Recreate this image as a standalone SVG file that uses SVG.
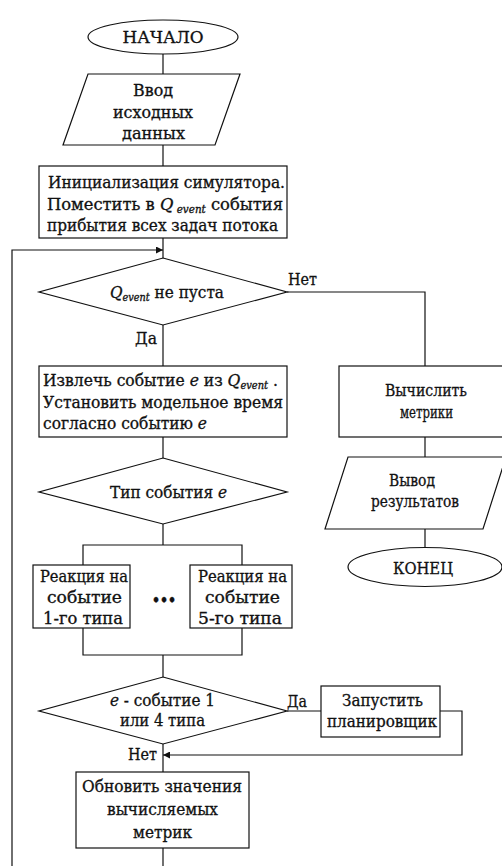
<svg xmlns="http://www.w3.org/2000/svg" width="502" height="866" viewBox="0 0 502 866">
<defs>
<style>
.n{fill:#fff;stroke:#111;stroke-width:1.2}
.c{fill:none;stroke:#111;stroke-width:1.2}
.t{font-family:"DejaVu Serif Condensed","DejaVu Serif","Liberation Serif",serif;font-size:16.5px;fill:#111;stroke:#111;stroke-width:0.3}
.m{text-anchor:middle}
.i{font-style:italic}
.s{font-style:italic;font-size:10.5px}
</style>
<marker id="ar" viewBox="0 0 8 8" refX="8" refY="4" markerWidth="7" markerHeight="7" markerUnits="userSpaceOnUse" orient="auto">
<path d="M0,0 L8,4 L0,8 Z" fill="#111"/>
</marker>
</defs>
<rect width="502" height="866" fill="#fff"/>
<g id="connectors">
<path class="c" d="M163,54 V74"/>
<path class="c" d="M163,145 V166"/>
<path class="c" d="M163,238 V258"/>
<path class="c" d="M12,866 V250 H163" marker-end="url(#ar)"/>
<path class="c" d="M163,325 V366"/>
<path class="c" d="M287,292 H425 V366"/>
<path class="c" d="M163,437 V458"/>
<path class="c" d="M163,524 V545"/>
<path class="c" d="M83,565 V545 H242 V565"/>
<path class="c" d="M83,628 V655 H242 V628"/>
<path class="c" d="M163,655 V677"/>
<path class="c" d="M287,711 H321"/>
<path class="c" d="M440,711 H462 V755 H163" marker-end="url(#ar)"/>
<path class="c" d="M163,744 V772"/>
<path class="c" d="M163,848 V866"/>
<path class="c" d="M425,437 V457"/>
<path class="c" d="M425,529 V548"/>
<text class="t" x="288" y="285" textLength="29" lengthAdjust="spacingAndGlyphs">Нет</text>
<text class="t" x="135" y="344" textLength="22" lengthAdjust="spacingAndGlyphs">Да</text>
<text class="t" x="287" y="707" textLength="20" lengthAdjust="spacingAndGlyphs">Да</text>
<text class="t" x="128" y="760" textLength="29" lengthAdjust="spacingAndGlyphs">Нет</text>
</g>
<g id="start">
<ellipse class="n" cx="163" cy="37" rx="75" ry="17"/>
<text class="t m" x="163" y="43" textLength="81" lengthAdjust="spacingAndGlyphs">НАЧАЛО</text>
</g>
<g id="input">
<polygon class="n" points="88,74 240,74 215,145 63,145"/>
<text class="t m" x="153" y="96" textLength="40" lengthAdjust="spacingAndGlyphs">Ввод</text>
<text class="t m" x="153" y="118" textLength="80" lengthAdjust="spacingAndGlyphs">исходных</text>
<text class="t m" x="153.5" y="139" textLength="63" lengthAdjust="spacingAndGlyphs">данных</text>
</g>
<g id="init">
<rect class="n" x="39" y="166" width="248" height="72"/>
<text class="t" x="48" y="188" textLength="237" lengthAdjust="spacingAndGlyphs">Инициализация симулятора.</text>
<text class="t" x="47" y="210" textLength="236" lengthAdjust="spacingAndGlyphs">Поместить в <tspan class="i">Q</tspan><tspan class="s" dy="3"> event</tspan><tspan dy="-3"> события</tspan></text>
<text class="t" x="47" y="231" textLength="231" lengthAdjust="spacingAndGlyphs">прибытия всех задач  потока</text>
</g>
<g id="check-queue">
<polygon class="n" points="163,258 287,292 163,325 39,292"/>
<text class="t" x="110" y="298" textLength="114" lengthAdjust="spacingAndGlyphs"><tspan class="i">Q</tspan><tspan class="s" dy="3">event</tspan><tspan dy="-3">  не пуста</tspan></text>
</g>
<g id="extract">
<rect class="n" x="39" y="366" width="248" height="71"/>
<text class="t" x="43" y="386" textLength="235" lengthAdjust="spacingAndGlyphs">Извлечь событие <tspan class="i">e</tspan> из <tspan class="i">Q</tspan><tspan class="s" dy="3">event</tspan><tspan dy="-3"> .</tspan></text>
<text class="t" x="43" y="408" textLength="240" lengthAdjust="spacingAndGlyphs">Установить модельное время</text>
<text class="t" x="43" y="429" textLength="164" lengthAdjust="spacingAndGlyphs">согласно событию <tspan class="i">e</tspan></text>
</g>
<g id="event-type">
<polygon class="n" points="163,458 287,492 163,524 39,492"/>
<text class="t" x="110" y="498" textLength="117" lengthAdjust="spacingAndGlyphs">Тип события <tspan class="i">e</tspan></text>
</g>
<g id="reaction-1">
<rect class="n" x="33" y="565" width="97" height="63"/>
<text class="t m" x="84" y="582" textLength="88" lengthAdjust="spacingAndGlyphs">Реакция на</text>
<text class="t m" x="84.5" y="603" textLength="75" lengthAdjust="spacingAndGlyphs">событие</text>
<text class="t m" x="83" y="624" textLength="80" lengthAdjust="spacingAndGlyphs">1-го типа</text>
</g>
<g id="ellipsis">
<text class="t m" x="164" y="605" style="font-size:14px;font-weight:bold">•••</text>
</g>
<g id="reaction-5">
<rect class="n" x="190" y="565" width="102" height="63"/>
<text class="t m" x="242.5" y="582" textLength="89" lengthAdjust="spacingAndGlyphs">Реакция на</text>
<text class="t m" x="242.5" y="603" textLength="75" lengthAdjust="spacingAndGlyphs">событие</text>
<text class="t m" x="240" y="624" textLength="84" lengthAdjust="spacingAndGlyphs">5-го типа</text>
</g>
<g id="check-type">
<polygon class="n" points="163,677 287,711 163,744 39,711"/>
<text class="t" x="110" y="706" textLength="105" lengthAdjust="spacingAndGlyphs"><tspan class="i">e</tspan> - событие 1</text>
<text class="t" x="120" y="726" textLength="85" lengthAdjust="spacingAndGlyphs">или 4 типа</text>
</g>
<g id="scheduler">
<rect class="n" x="321" y="686" width="119" height="51"/>
<text class="t m" x="382.5" y="706" textLength="81" lengthAdjust="spacingAndGlyphs">Запустить</text>
<text class="t m" x="382" y="727" textLength="110" lengthAdjust="spacingAndGlyphs">планировщик</text>
</g>
<g id="update">
<rect class="n" x="76" y="772" width="173" height="76"/>
<text class="t m" x="162" y="792" textLength="160" lengthAdjust="spacingAndGlyphs">Обновить значения</text>
<text class="t m" x="162.5" y="815" textLength="111" lengthAdjust="spacingAndGlyphs">вычисляемых</text>
<text class="t m" x="162.5" y="838" textLength="59" lengthAdjust="spacingAndGlyphs">метрик</text>
</g>
<g id="calc">
<rect class="n" x="339" y="366" width="170" height="71"/>
<text class="t m" x="426" y="396" textLength="82" lengthAdjust="spacingAndGlyphs">Вычислить</text>
<text class="t m" x="426.5" y="418" textLength="53" lengthAdjust="spacingAndGlyphs">метрики</text>
</g>
<g id="output">
<polygon class="n" points="348,457 506,457 483,529 325,529"/>
<text class="t m" x="412" y="486" textLength="46" lengthAdjust="spacingAndGlyphs">Вывод</text>
<text class="t m" x="415" y="507" textLength="88" lengthAdjust="spacingAndGlyphs">результатов</text>
</g>
<g id="end">
<ellipse class="n" cx="425" cy="567" rx="77" ry="19.5"/>
<text class="t m" x="423" y="574" textLength="60" lengthAdjust="spacingAndGlyphs">КОНЕЦ</text>
</g>
</svg>
